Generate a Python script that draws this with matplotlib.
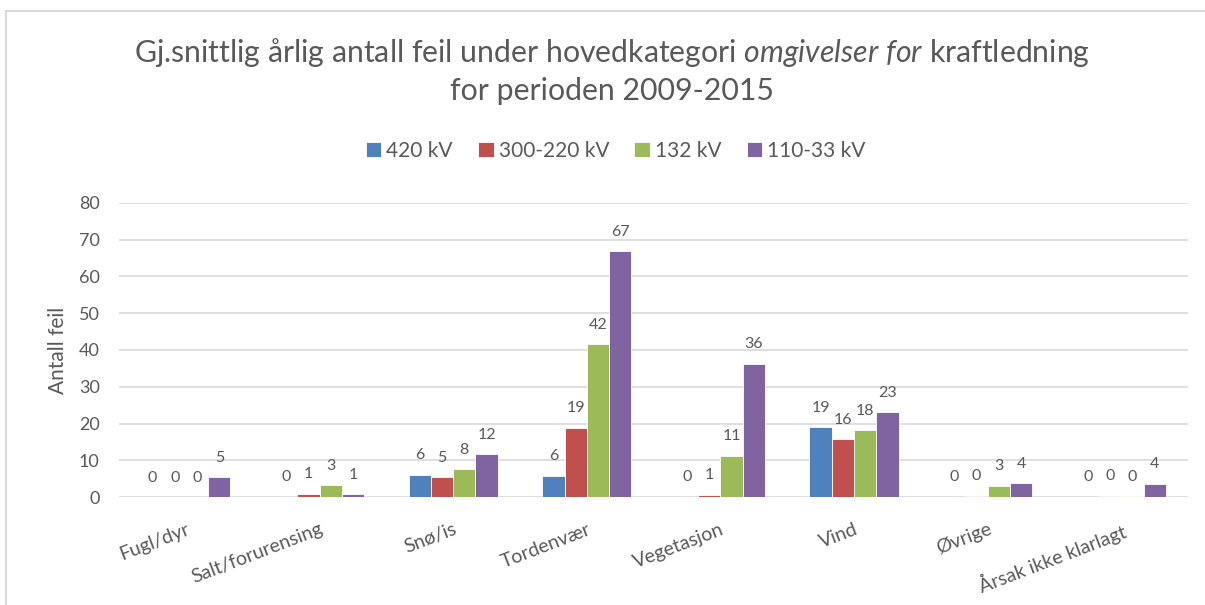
import matplotlib.pyplot as plt
import numpy as np
from matplotlib.lines import Line2D

plt.rcParams['font.family'] = ['Lato', 'DejaVu Sans']
plt.rcParams['mathtext.fontset'] = 'custom'
plt.rcParams['mathtext.rm'] = 'Lato'
plt.rcParams['mathtext.it'] = 'Lato:italic'

# Data
categories = ["Fugl/dyr", "Salt/forurensing", "Snø/is", "Tordenvær",
              "Vegetasjon", "Vind", "Øvrige", "Årsak ikke klarlagt"]
series_names = ["420 kV", "300-220 kV", "132 kV", "110-33 kV"]
kv420 = [0.0, 0.1, 6.1, 5.8, 0.1, 19.0, 0.1, 0.1]
kv300 = [0.0, 0.9, 5.4, 18.9, 0.6, 15.7, 0.3, 0.3]
kv132 = [0.0, 3.2, 7.6, 41.6, 11.2, 18.2, 3.0, 0.2]
kv110 = [5.4, 0.7, 11.7, 66.9, 36.3, 23.1, 3.8, 3.6]
colors = ['#4F81BD', '#C0504D', '#9BBB59', '#8064A2']
text_gray = '#595959'

fig = plt.figure(figsize=(12.05, 6.05), dpi=100)
ax = fig.add_axes([0.0988, 0.1785, 0.8872, 0.486])

x = np.arange(len(categories))
w = 1 / 6
for i, (vals, name, c) in enumerate(zip([kv420, kv300, kv132, kv110], series_names, colors)):
    pos = x + (i - 1.5) * w
    ax.bar(pos, vals, width=w, color=c, label=name, edgecolor='white', linewidth=0.6)
    for xp, v in zip(pos, vals):
        ax.annotate(f"{v:.0f}", (xp, v), xytext=(0, 9), textcoords='offset points',
                    ha='center', va='bottom', fontsize=11.5, color=text_gray)

ax.set_xlim(-0.5, len(categories) - 0.5)
ax.set_ylim(0, 80)
ax.set_yticks(range(0, 81, 10))
ax.grid(axis='y', color='#D9D9D9', linewidth=1.2)
ax.set_axisbelow(True)
for s in ['top', 'right', 'left', 'bottom']:
    ax.spines[s].set_visible(False)
ax.tick_params(axis='both', length=0, labelsize=13, colors=text_gray)
ax.tick_params(axis='y', pad=14)
ax.set_xticks(x)
ax.set_xticklabels(categories, rotation=21, ha='right', rotation_mode='anchor', fontsize=14)
ax.tick_params(axis='x', pad=17)
ax.set_ylabel("Antall feil", fontsize=15, color=text_gray, labelpad=8)

# Title
fig.text(0.5075, 0.8975,
         r"Gj.snittlig årlig antall feil under hovedkategori $\mathit{omgivelser\ for}$ kraftledning",
         ha='center', va='baseline', fontsize=21.8, color=text_gray)
fig.text(0.5075, 0.8347, "for perioden 2009-2015",
         ha='center', va='baseline', fontsize=21.8, color=text_gray)

fig.legend(loc='center', bbox_to_anchor=(0.511, 0.751), ncol=4, frameon=False,
           handlelength=0.75, handleheight=0.75, handletextpad=0.25, columnspacing=1.2,
           fontsize=15, labelcolor=text_gray)

# chart border
fig.add_artist(Line2D([6 / 1205, 6 / 1205], [0, 1 - 11 / 605], color='#D9D9D9', linewidth=1.5))
fig.add_artist(Line2D([6 / 1205, 1], [1 - 11 / 605, 1 - 11 / 605], color='#D9D9D9', linewidth=1.5))

fig.savefig("out.png", dpi=100)
